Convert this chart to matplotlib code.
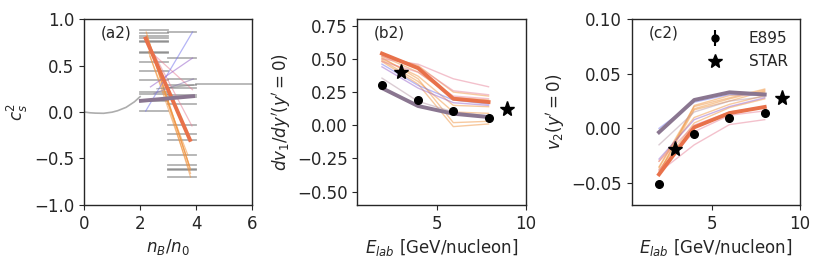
import numpy as np
import matplotlib
matplotlib.use('Agg')
import matplotlib.pyplot as plt
from matplotlib.lines import Line2D

plt.rcParams['font.family'] = 'DejaVu Sans'
plt.rcParams['font.size'] = 12
plt.rcParams['text.color'] = '#262626'
plt.rcParams['axes.labelcolor'] = '#262626'
plt.rcParams['axes.edgecolor'] = '#262626'
plt.rcParams['xtick.color'] = '#262626'
plt.rcParams['ytick.color'] = '#262626'
plt.rcParams['axes.linewidth'] = 1.0
plt.rcParams['axes.labelpad'] = 3

# ---- panel (a) data: speed of sound squared ----
nuc_n = [0.0, 0.2, 0.4, 0.7, 1.0, 1.2, 1.5, 1.8, 2.0]
nuc_cs2 = [0.0, -0.008, -0.012, -0.014, -0.002, 0.014, 0.05, 0.11, 0.165]
high_n = [4.0, 6.0]
high_cs2 = [0.30, 0.30]

band1 = [2.0, 3.0]
band2 = [3.0, 4.0]
cs2_band1 = [0.88, 0.85, 0.82, 0.80, 0.76, 0.75, 0.65, 0.63, 0.54, 0.44,
             0.34, 0.21, 0.19, 0.13, 0.12, 0.01]
cs2_band2 = [0.86, 0.58, 0.355, 0.29, 0.255, 0.18, 0.16, 0.09, -0.14, -0.24,
             -0.30, -0.46, -0.57, -0.61, -0.62, -0.70]

# connecting lines (n_start, cs2_start, n_end, cs2_end, colour)
cs2_links = [
    (2.22, 0.86, 3.80, -0.70, '#F09440'),
    (2.25, 0.82, 3.80, -0.62, '#F09440'),
    (2.28, 0.78, 3.78, -0.60, '#F09440'),
    (2.30, 0.74, 3.75, -0.57, '#F09440'),
    (2.30, 0.65, 3.80, -0.66, '#F09440'),
    (2.35, 0.60, 3.70, -0.46, '#F09440'),
    (2.40, 0.68, 3.85, -0.15, '#E8849A'),
    (2.37, 0.65, 3.87, 0.24, '#E8849A'),
    (2.20, 0.01, 3.87, 0.86, '#7777EE'),
    (2.37, 0.27, 3.87, 0.58, '#9966CC'),
    (2.50, 0.20, 3.90, 0.355, '#8877AA'),
    (2.60, 0.25, 3.90, 0.29, '#777777'),
]
thick_orange_a = (2.2, 0.79, 3.78, -0.30)
thick_purple_a = (2.03, 0.12, 3.89, 0.17)

# ---- panels (b) and (c): flow observables ----
elab_b = [1.85, 3.9, 5.9, 7.9]
elab_c = [2.0, 4.0, 6.0, 8.0]
e895_dv1 = [0.30, 0.19, 0.11, 0.055]
e895_dv1_err = [0.01, 0.01, 0.01, 0.01]
e895_v2 = [-0.0506, -0.005, 0.0096, 0.014]
e895_v2_err = [0.002, 0.002, 0.002, 0.003]
star_elab = [2.92, 8.96]
star_dv1 = [0.40, 0.12]
star_v2 = [-0.0187, 0.0278]

model_colors = ['#F09440', '#F09440', '#F09440', '#F09440', '#F09440', '#F09440',
                '#E8849A', '#E8849A', '#E8849A', '#7777EE', '#9966CC', '#B89AA8']
model_dv1 = [
    [0.53, 0.45, 0.25, 0.22],
    [0.52, 0.40, 0.21, 0.19],
    [0.50, 0.37, 0.15, 0.14],
    [0.49, 0.33, 0.10, 0.09],
    [0.51, 0.35, 0.02, 0.03],
    [0.48, 0.31, -0.01, 0.01],
    [0.50, 0.46, 0.35, 0.29],
    [0.52, 0.44, 0.26, 0.23],
    [0.48, 0.40, 0.22, 0.20],
    [0.46, 0.30, 0.19, 0.16],
    [0.44, 0.28, 0.17, 0.15],
    [0.355, 0.18, 0.10, 0.07],
]
model_v2 = [
    [-0.035, 0.020, 0.028, 0.036],
    [-0.040, 0.017, 0.025, 0.034],
    [-0.030, 0.010, 0.022, 0.030],
    [-0.038, 0.005, 0.019, 0.027],
    [-0.041, 0.021, 0.030, 0.033],
    [-0.036, 0.018, 0.027, 0.035],
    [-0.040, -0.015, 0.0035, 0.008],
    [-0.038, -0.003, 0.012, 0.016],
    [-0.030, 0.003, 0.015, 0.020],
    [0.000, 0.024, 0.031, 0.030],
    [-0.028, 0.008, 0.020, 0.028],
    [-0.015, 0.015, 0.025, 0.029],
]
best_orange_dv1 = [0.54, 0.43, 0.20, 0.175]
best_orange_v2 = [-0.042, 0.001, 0.014, 0.0196]
best_purple_dv1 = [0.28, 0.145, 0.087, 0.062]
best_purple_v2 = [-0.0035, 0.026, 0.033, 0.031]

c_orange = '#E8714A'
c_purple = '#8A7690'

fig = plt.figure(figsize=(8.3, 2.64), dpi=100)
w, h, bot = 0.2027, 0.7045, 0.2235
ax_a = fig.add_axes([0.1012, bot, w, h])
ax_b = fig.add_axes([0.4305, bot, w, h])
ax_c = fig.add_axes([0.7611, bot, w, h])

# (a)
ax_a.plot(nuc_n, nuc_cs2, color='#999999', lw=1.2, alpha=0.8)
ax_a.plot(high_n, high_cs2, color='#999999', lw=1.2, alpha=0.8)
for v in cs2_band1:
    ax_a.plot(band1, [v, v], color='#555555', lw=1.3, alpha=0.45)
for v in cs2_band2:
    ax_a.plot(band2, [v, v], color='#555555', lw=1.3, alpha=0.45)
for x0, y0, x1, y1, col in cs2_links:
    ax_a.plot([x0, x1], [y0, y1], color=col, lw=0.9, alpha=0.55)
ax_a.plot(thick_orange_a[::2], thick_orange_a[1::2], color=c_orange, lw=2.8)
ax_a.plot(thick_purple_a[::2], thick_purple_a[1::2], color=c_purple, lw=2.8)
ax_a.set_xlim(0, 6)
ax_a.set_ylim(-1, 1)
ax_a.set_xticks([0, 2, 4, 6])
ax_a.set_yticks([-1.0, -0.5, 0.0, 0.5, 1.0])
ax_a.set_xlabel('$n_B/n_0$')
ax_a.set_ylabel('$c_s^2$')
ax_a.text(0.1, 0.925, '(a2)', transform=ax_a.transAxes, va='center', fontsize=11)

# (b)
for col, vals in zip(model_colors, model_dv1):
    ax_b.plot(elab_b, vals, color=col, lw=1.0, alpha=0.5)
ax_b.plot(elab_b, best_orange_dv1, color=c_orange, lw=2.8)
ax_b.plot(elab_b, best_purple_dv1, color=c_purple, lw=2.8)
ax_b.errorbar(elab_b, e895_dv1, yerr=e895_dv1_err, fmt='o', color='black', ms=5.5, zorder=5)
ax_b.plot(star_elab, star_dv1, '*', color='black', ms=11, zorder=5)
ax_b.set_xlim(0.45, 10)
ax_b.set_ylim(-0.6, 0.8)
ax_b.set_xticks([5, 10])
ax_b.set_yticks([-0.5, -0.25, 0.0, 0.25, 0.5, 0.75])
ax_b.set_xlabel('$E_{lab}$ [GeV/nucleon]')
ax_b.set_ylabel("$dv_1/dy'(y'=0)$")
ax_b.text(0.1, 0.925, '(b2)', transform=ax_b.transAxes, va='center', fontsize=11)

# (c)
for col, vals in zip(model_colors, model_v2):
    ax_c.plot(elab_c, vals, color=col, lw=1.0, alpha=0.5)
ax_c.plot(elab_c, best_orange_v2, color=c_orange, lw=2.8)
ax_c.plot(elab_c, best_purple_v2, color=c_purple, lw=2.8)
ax_c.errorbar(elab_c, e895_v2, yerr=e895_v2_err, fmt='o', color='black', ms=5.5, zorder=5)
ax_c.plot(star_elab, star_v2, '*', color='black', ms=11, zorder=5)
ax_c.set_xlim(0.45, 10)
ax_c.set_ylim(-0.07, 0.10)
ax_c.set_xticks([5, 10])
ax_c.set_yticks([-0.05, 0.0, 0.05, 0.10])
ax_c.set_xlabel('$E_{lab}$ [GeV/nucleon]')
ax_c.set_ylabel("$v_2(y'=0)$")
ax_c.text(0.1, 0.925, '(c2)', transform=ax_c.transAxes, va='center', fontsize=11)

h_e895 = ax_c.errorbar([], [], yerr=[], fmt='o', color='black', ms=5)
h_star = Line2D([], [], marker='*', ls='none', color='black', ms=10)
ax_c.legend([h_e895, h_star], ['E895', 'STAR'], loc='upper right', frameon=False,
            handlelength=1.2, handletextpad=1.6, borderaxespad=0.4, fontsize=11)

fig.savefig('out.png', dpi=100)
